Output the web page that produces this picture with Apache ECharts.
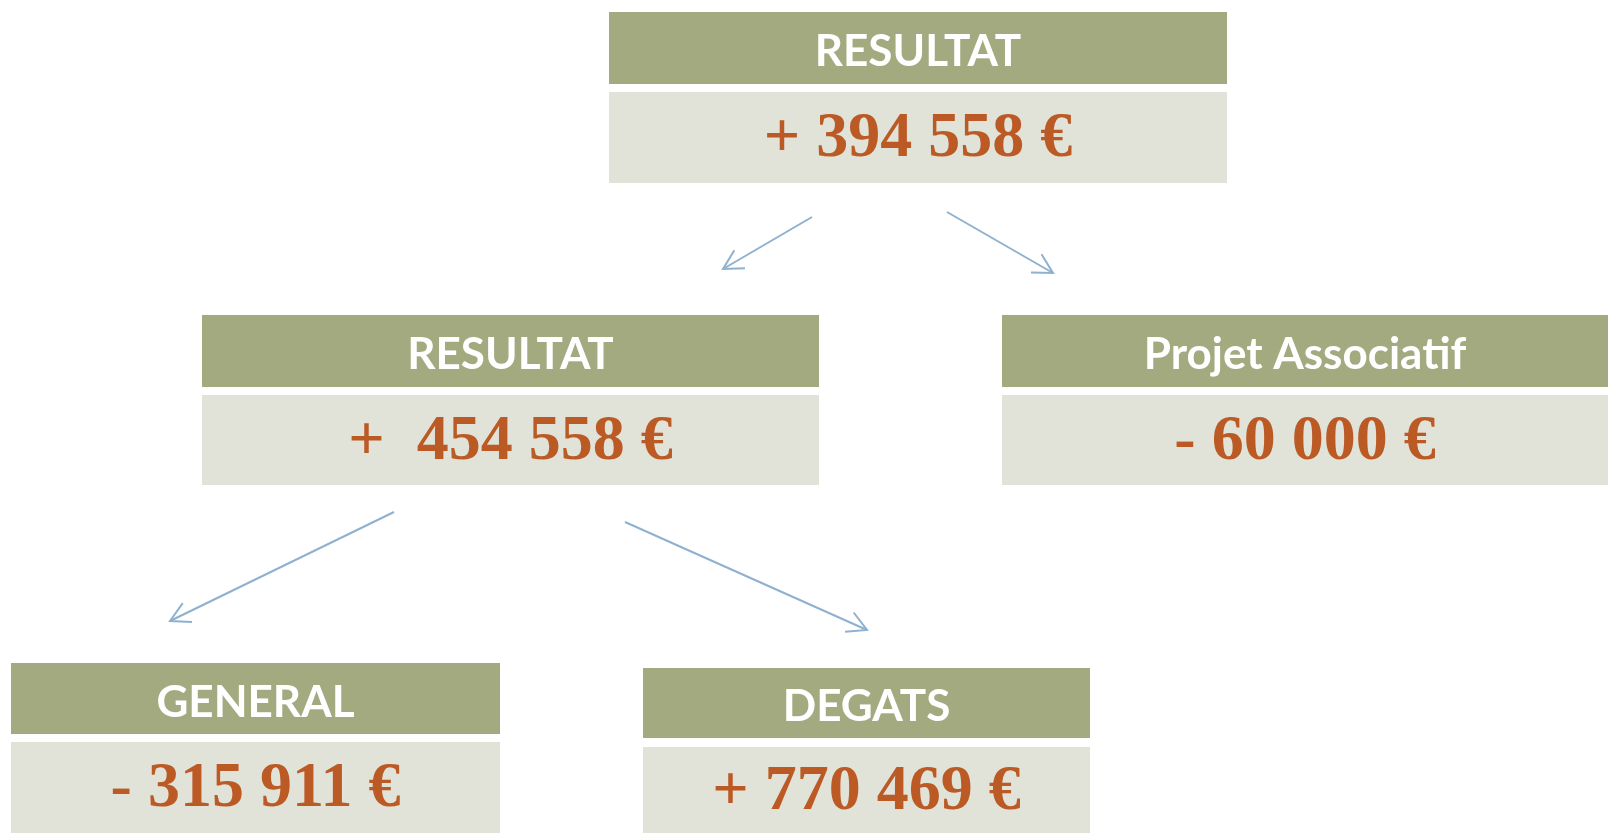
<!DOCTYPE html>
<html><head><meta charset="utf-8">
<script src="https://cdn.jsdelivr.net/npm/echarts@6/dist/echarts.min.js"></script>
<style>html,body{margin:0;padding:0;background:#fff}#c{width:1608px;height:833px}</style>
</head><body><div id="c"></div>
<script>
// ---- data ----
const nodeTitles = ['RESULTAT', 'RESULTAT', 'Projet Associatif', 'GENERAL', 'DEGATS'];
const nodeValues = ['+ 394 558 €', '+  454 558 €', '- 60 000 €', '- 315 911 €', '+ 770 469 €'];
const links = [[0, 1], [0, 2], [1, 3], [1, 4]];

// ---- layout (pixel space mapped through hidden axes) ----
// [x0, x1, headerTop, headerBottom, valueTop, valueBottom]
const boxLayout = [
  [609, 1227, 12, 84, 92, 183],
  [202, 819, 315, 387, 395, 485],
  [1002, 1620, 315, 387, 395, 485],
  [11, 500, 663, 734, 742, 840],
  [643, 1090, 668, 738, 747, 840]
];
// arrow [x1,y1,x2,y2]
const arrowLayout = [
  [812, 217, 723, 269],
  [947, 212, 1053, 273],
  [394, 512, 170, 621],
  [625, 522, 867, 630]
];

const HEADER = '#a4aa80', VALBG = '#e1e2d8', VALTXT = '#bb5a24', ARROW = '#8fb1d0';

const chart = echarts.init(document.getElementById('c'), null, {renderer: 'canvas'});
chart.setOption({
  animation: false,
  grid: {left: 0, right: 0, top: 0, bottom: 0},
  xAxis: {type: 'value', min: 0, max: 1608, show: false},
  yAxis: {type: 'value', min: 0, max: 833, inverse: true, show: false},
  series: [
    {
      type: 'custom',
      coordinateSystem: 'cartesian2d',
      data: nodeTitles.map((t, i) => [i]),
      renderItem: function (params, api) {
        const i = api.value(0);
        const L = boxLayout[i];
        const p0 = api.coord([L[0], L[2]]);
        const p1 = api.coord([L[1], L[3]]);
        const q0 = api.coord([L[0], L[4]]);
        const q1 = api.coord([L[1], L[5]]);
        const cx = (p0[0] + Math.min(p1[0], 1608)) / 2;
        return {
          type: 'group',
          children: [
            {type: 'rect', shape: {x: p0[0], y: p0[1], width: p1[0] - p0[0], height: p1[1] - p0[1]}, style: {fill: HEADER}},
            {type: 'rect', shape: {x: q0[0], y: q0[1], width: q1[0] - q0[0], height: q1[1] - q0[1]}, style: {fill: VALBG}},
            {type: 'text', x: cx, y: (p0[1] + p1[1]) / 2 + 4,
              style: {text: nodeTitles[i], fill: '#ffffff', font: 'bold 44px Lato', align: 'center', verticalAlign: 'middle'}},
            {type: 'text', x: cx, y: (q0[1] + Math.min(q1[1], 833)) / 2 + 2,
              style: {text: nodeValues[i], fill: VALTXT, font: 'bold 64px "Liberation Serif"', align: 'center', verticalAlign: 'middle'}}
          ]
        };
      }
    },
    {
      type: 'custom',
      coordinateSystem: 'cartesian2d',
      data: links.map((l, i) => [i]),
      renderItem: function (params, api) {
        const A = arrowLayout[api.value(0)];
        const s = api.coord([A[0], A[1]]);
        const e = api.coord([A[2], A[3]]);
        const ang = Math.atan2(s[1] - e[1], s[0] - e[0]);
        const len = 22, spread = 0.5;
        const h1 = [e[0] + len * Math.cos(ang + spread), e[1] + len * Math.sin(ang + spread)];
        const h2 = [e[0] + len * Math.cos(ang - spread), e[1] + len * Math.sin(ang - spread)];
        return {
          type: 'group',
          children: [
            {type: 'line', shape: {x1: s[0], y1: s[1], x2: e[0], y2: e[1]}, style: {stroke: ARROW, lineWidth: 2}},
            {type: 'polyline', shape: {points: [h1, e, h2]}, style: {stroke: ARROW, lineWidth: 2, fill: null}}
          ]
        };
      }
    }
  ]
});
</script></body></html>
